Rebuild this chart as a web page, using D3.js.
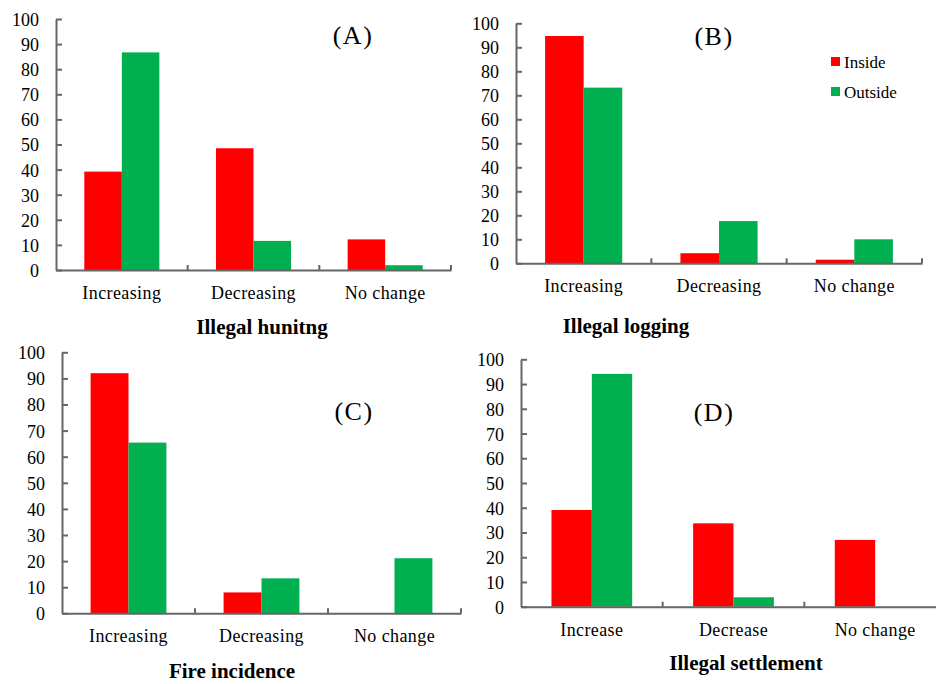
<!DOCTYPE html>
<html>
<head>
<meta charset="utf-8">
<script src="https://cdn.jsdelivr.net/npm/d3@7"></script>
<style>
  html, body { margin: 0; padding: 0; background: #fff; }
  svg { display: block; }
</style>
</head>
<body>
<svg id="chart" width="936" height="684"></svg>
<script>
// Survey responses (%) on change in each threat, inside vs outside the protected area
const seriesNames = ["Inside", "Outside"];
const seriesColors = ["#ff0000", "#00b050"];

const catsTrend = ["Increasing", "Decreasing", "No change"];
const catsSettle = ["Increase", "Decrease", "No change"];

const huntingInside = [39.2, 48.5, 12.2];
const huntingOutside = [86.7, 11.6, 1.9];

const loggingInside = [94.7, 4.2, 1.5];
const loggingOutside = [73.2, 17.6, 10.0];

const fireInside = [92.0, 8.0, 0];
const fireOutside = [65.4, 13.4, 21.1];

const settleInside = [39.1, 33.7, 27.0];
const settleOutside = [94.1, 3.8, 0];

const yTicks = [0, 10, 20, 30, 40, 50, 60, 70, 80, 90, 100];

const panelLetters = ["(A)", "(B)", "(C)", "(D)"];
const panelTitles = ["Illegal hunitng", "Illegal logging", "Fire incidence", "Illegal settlement"];

const SERIF = '"Liberation Serif", "Times New Roman", Times, serif';

// Frame of each small chart: plot area edges and where its captions sit
const frames = [
  { x0: 56,  x1: 451, yTop: 19,    yBase: 270,   letter: [353, 44],  title: [262, 334], legend: false },
  { x0: 516, x1: 922, yTop: 23.3,  yBase: 263.3, letter: [714, 45],  title: [626, 333], legend: true },
  { x0: 62,  x1: 461, yTop: 352.3, yBase: 613.3, letter: [354, 420], title: [232, 678], legend: false },
  { x0: 521, x1: 946, yTop: 359.3, yBase: 606.7, letter: [714, 421], title: [746, 670], legend: false }
];

const panelData = [
  { cats: catsTrend, values: [huntingInside, huntingOutside] },
  { cats: catsTrend, values: [loggingInside, loggingOutside] },
  { cats: catsTrend, values: [fireInside, fireOutside] },
  { cats: catsSettle, values: [settleInside, settleOutside] }
];

const svg = d3.select("#chart");
const axisColor = "#666";

panelData.forEach((pd, i) => {
  const f = frames[i];
  const g = svg.append("g");

  const x = d3.scaleBand().domain(pd.cats).range([f.x0, f.x1]).padding(0);
  const bw = x.bandwidth();
  const x1 = d3.scaleBand().domain(seriesNames).range([bw * 0.215, bw * 0.785]).padding(0);
  const y = d3.scaleLinear().domain([0, 100]).range([f.yBase, f.yTop]);

  // bars
  seriesNames.forEach((s, si) => {
    g.append("g").selectAll("rect")
      .data(pd.cats.map((c, ci) => ({ c, v: pd.values[si][ci] })))
      .join("rect")
      .attr("x", d => x(d.c) + x1(s))
      .attr("y", d => y(d.v))
      .attr("width", x1.bandwidth())
      .attr("height", d => y(0) - y(d.v))
      .attr("fill", seriesColors[si]);
  });

  // y axis, ticks pointing into the plot
  const ya = g.append("g")
    .attr("transform", `translate(${f.x0},0)`)
    .call(d3.axisLeft(y).tickValues(yTicks).tickSizeInner(-6).tickSizeOuter(0).tickPadding(17));
  ya.select(".domain").attr("stroke", axisColor).attr("stroke-width", 2);
  ya.selectAll(".tick line").attr("stroke", axisColor).attr("stroke-width", 2);
  ya.selectAll(".tick text")
    .style("font-family", SERIF)
    .style("font-size", "18px").attr("fill", "#000")
    .attr("dy", "0.36em");

  // x axis with category labels and boundary ticks between categories
  const xa = g.append("g")
    .attr("transform", `translate(0,${f.yBase})`)
    .call(d3.axisBottom(x).tickSize(0).tickSizeOuter(0));
  xa.select(".domain").attr("stroke", axisColor).attr("stroke-width", 2);
  xa.selectAll(".tick text")
    .style("font-family", SERIF)
    .style("font-size", "18px").attr("fill", "#000")
    .style("letter-spacing", "0.4px")
    .attr("y", 29).attr("dy", 0);
  xa.selectAll(".bound")
    .data(pd.cats)
    .join("line")
    .attr("class", "bound")
    .attr("x1", c => x(c) + bw).attr("x2", c => x(c) + bw)
    .attr("y1", 0).attr("y2", -5)
    .attr("stroke", axisColor).attr("stroke-width", 2);

  // panel letter
  g.append("text")
    .attr("x", f.letter[0]).attr("y", f.letter[1])
    .attr("text-anchor", "middle")
    .style("font-family", SERIF)
    .style("font-size", "26px")
    .style("letter-spacing", "1.5px")
    .text(panelLetters[i]);

  // panel caption
  g.append("text")
    .attr("x", f.title[0]).attr("y", f.title[1])
    .attr("text-anchor", "middle")
    .style("font-family", SERIF)
    .style("font-size", "21px")
    .style("font-weight", "bold")
    .text(panelTitles[i]);

  if (f.legend) {
    const lg = g.append("g").attr("transform", "translate(831,57)");
    seriesNames.forEach((s, si) => {
      lg.append("rect")
        .attr("x", 0).attr("y", si * 30)
        .attr("width", 9).attr("height", 9)
        .attr("fill", seriesColors[si]);
      lg.append("text")
        .attr("x", 13).attr("y", si * 30 + 11)
        .style("font-family", SERIF)
        .style("font-size", "17px")
        .text(s);
    });
  }
});
</script>
</body>
</html>
